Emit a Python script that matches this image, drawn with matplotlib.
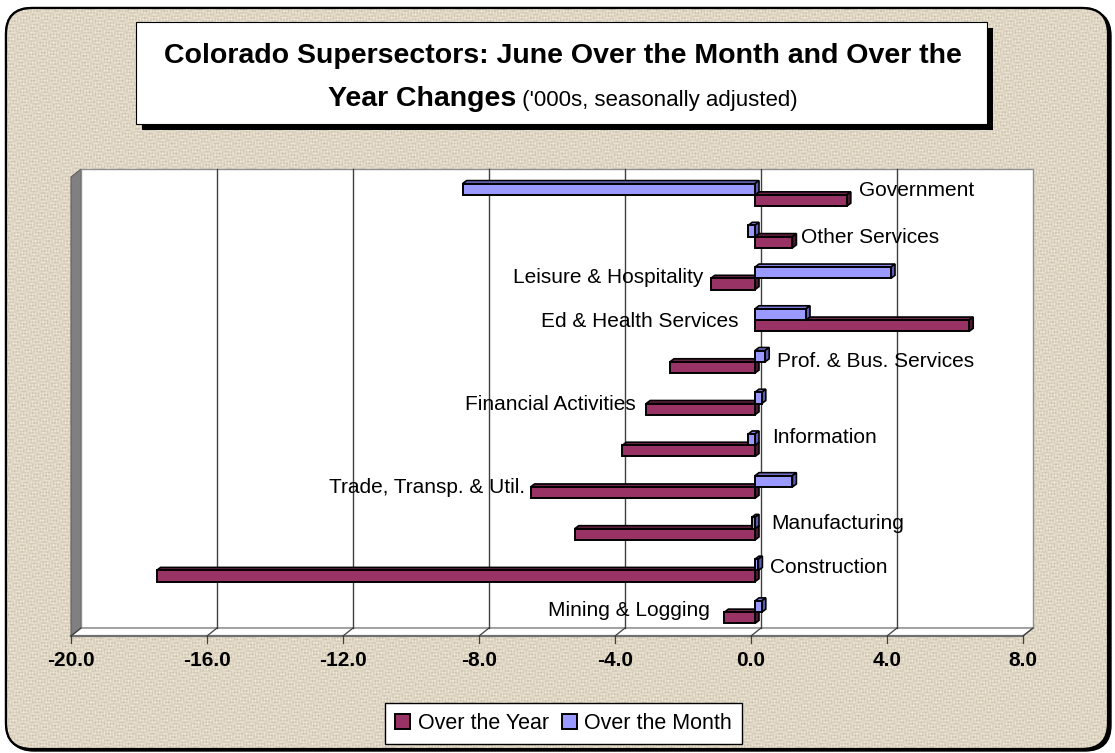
import numpy as np
import matplotlib
matplotlib.use("Agg")
import matplotlib.pyplot as plt
from matplotlib.patches import Polygon, Rectangle, FancyBboxPatch
from matplotlib.transforms import IdentityTransform, ScaledTranslation
from matplotlib.lines import Line2D

plt.rcParams['font.family'] = ['Liberation Sans', 'DejaVu Sans']

# ---------------- data ----------------
categories = ["Mining & Logging", "Construction", "Manufacturing",
              "Trade, Transp. & Util.", "Information", "Financial Activities",
              "Prof. & Bus. Services", "Ed & Health Services",
              "Leisure & Hospitality", "Other Services", "Government"]
over_year = [-0.9, -17.6, -5.3, -6.6, -3.9, -3.2, -2.5, 6.3, -1.3, 1.1, 2.7]
over_month = [0.2, 0.1, -0.1, 1.1, -0.2, 0.2, 0.3, 1.5, 4.0, -0.2, -8.6]
series_names = ["Over the Year", "Over the Month"]
x_ticks = [-20, -16, -12, -8, -4, 0, 4, 8]
tick_labels = ["-20.0", "-16.0", "-12.0", "-8.0", "-4.0", "0.0", "4.0", "8.0"]
title_line1 = "Colorado Supersectors: June Over the Month and Over the"
title_line2_bold = "Year Changes"
title_line2_rest = " ('000s, seasonally adjusted)"

# label placement (layout, not data)
label_x = [-1.2, 0.55, 0.6, -6.65, 0.62, -3.4, 0.76, -0.38, -1.41, 1.47, 3.18]
label_ha = ["right", "left", "left", "right", "left", "right", "left",
            "right", "right", "left", "left"]
label_dy = [0.12, 0.13, 0.2, 0.06, 0.25, 0.04, 0.07, 0.03, 0.08, 0.06, 0.17]

# ---------------- style ----------------
W, H = 1115, 753
C_YEAR = "#993366"
C_MONTH = "#9999FF"
C_YEAR_TOP = "#6e2449"
C_YEAR_SIDE = "#4d1a33"
C_MONTH_TOP = "#8080e6"
C_MONTH_SIDE = "#5c5cb3"
DEPTH = np.array([10.0, 8.0])       # wall depth in px (right, up)
BAR_FRONT = np.array([4.0, 3.0])
BAR_BACK = np.array([8.0, 6.0])
BAR_H = 0.27

fig = plt.figure(figsize=(W / 100, H / 100), dpi=100)
fig.patch.set_facecolor("white")

# ---------------- background ----------------
bg = fig.add_axes([0, 0, 1, 1])
bg.set_xlim(0, W)
bg.set_ylim(H, 0)
bg.axis("off")

shadow = FancyBboxPatch((8, 10), W - 12, H - 12,
                        boxstyle="round,pad=0,rounding_size=26",
                        fc="black", ec="black", lw=1.0, zorder=0)
bg.add_patch(shadow)
frame = FancyBboxPatch((6, 8), W - 13, H - 12,
                       boxstyle="round,pad=0,rounding_size=26",
                       fc="#ddd4c1", ec="black", lw=1.6, zorder=1)
bg.add_patch(frame)

yy, xx = np.mgrid[0:H, 0:W].astype(float)
pat = (np.sin(xx * 2.1) * np.sin(yy * 0.35 + 2 * np.sin(xx * 0.031))
       + np.sin(yy * 1.9) * np.sin(xx * 0.29 + 2 * np.sin(yy * 0.027))
       + 0.6 * np.sin(xx * 0.7 + yy * 0.05) * np.cos(yy * 0.9))
base = np.array([223, 214, 196]) / 255.0
img = np.clip(base + pat[..., None] * 0.042 * np.array([1.0, 1.0, 1.1]), 0, 1)
im = bg.imshow(img, extent=(0, W, H, 0), zorder=1.5, interpolation="nearest")
im.set_clip_path(frame)
frame_edge = FancyBboxPatch((6, 8), W - 13, H - 12,
                            boxstyle="round,pad=0,rounding_size=26",
                            fc="none", ec="black", lw=1.6, zorder=1.6)
bg.add_patch(frame_edge)

# title box
bg.add_patch(Rectangle((142, 28), 851, 102, fc="black", ec="none", zorder=2))
bg.add_patch(Rectangle((136, 22), 851, 102, fc="white", ec="black", lw=0.8, zorder=3))
bg.text(563, 56, title_line1, ha="center", va="center", fontsize=20.5,
        fontweight="bold", zorder=4)
t_bold = bg.text(0, 106, title_line2_bold, ha="left", va="baseline", fontsize=20.5,
                 fontweight="bold", zorder=4)
t_rest = bg.text(0, 106, title_line2_rest, ha="left", va="baseline", fontsize=16,
                 zorder=4)
fig.canvas.draw()
r = fig.canvas.get_renderer()
wb = t_bold.get_window_extent(r).width
wr = t_rest.get_window_extent(r).width
x0 = 563 - (wb + wr) / 2
t_bold.set_x(x0)
t_rest.set_x(x0 + wb)

# ---------------- main axes (front plane) ----------------
ax = fig.add_axes([71 / W, (H - 636) / H, 952 / W, (636 - 177) / H])
ax.set_xlim(-20, 8)
ax.set_ylim(-0.5, 10.5)
ax.axis("off")
fig.canvas.draw()

def disp(x, y, off):
    p = ax.transData.transform((x, y))
    return p + off

xmin, xmax = ax.get_xlim()
ymin, ymax = ax.get_ylim()
Z = np.zeros(2)

# left side wall
side = Polygon([disp(xmin, ymin, Z), disp(xmin, ymax, Z),
                disp(xmin, ymax, DEPTH), disp(xmin, ymin, DEPTH)],
               closed=True, transform=IdentityTransform(), fc="#808080",
               ec="#606060", lw=0.8, zorder=0.5, clip_on=False)
ax.add_patch(side)
# back wall
back = Polygon([disp(xmin, ymin, DEPTH), disp(xmax, ymin, DEPTH),
                disp(xmax, ymax, DEPTH), disp(xmin, ymax, DEPTH)],
               closed=True, transform=IdentityTransform(), fc="white",
               ec="#909090", lw=1.0, zorder=0.5, clip_on=False)
ax.add_patch(back)
# floor
floor = Polygon([disp(xmin, ymin, Z), disp(xmax, ymin, Z),
                 disp(xmax, ymin, DEPTH), disp(xmin, ymin, DEPTH)],
                closed=True, transform=IdentityTransform(), fc="white",
                ec="#808080", lw=1.0, zorder=0.6, clip_on=False)
ax.add_patch(floor)
ax.add_line(Line2D([disp(xmin, ymin, Z)[0], disp(xmax, ymin, Z)[0]],
                   [disp(xmin, ymin, Z)[1], disp(xmax, ymin, Z)[1]],
                   transform=IdentityTransform(), color="#707070", lw=1.6,
                   zorder=0.7, clip_on=False))

# gridlines, floor diagonals, ticks
for xv, lab in zip(x_ticks, tick_labels):
    if xmin < xv < xmax:
        b0 = disp(xv, ymin, DEPTH)
        b1 = disp(xv, ymax, DEPTH)
        ax.add_line(Line2D([b0[0], b1[0]], [b0[1], b1[1]],
                           transform=IdentityTransform(), color="#404040",
                           lw=1.0, zorder=0.8, clip_on=False))
    f0 = disp(xv, ymin, Z)
    b0 = disp(xv, ymin, DEPTH)
    ax.add_line(Line2D([f0[0], b0[0]], [f0[1], b0[1]],
                       transform=IdentityTransform(), color="#404040",
                       lw=0.9, zorder=0.8, clip_on=False))
    ax.add_line(Line2D([f0[0], f0[0]], [f0[1], f0[1] - 7],
                       transform=IdentityTransform(), color="#404040",
                       lw=0.9, zorder=0.8, clip_on=False))
    ax.annotate(lab, (xv, ymin), xytext=(0, -18), textcoords="offset points",
                ha="center", va="center", fontsize=15, fontweight="bold",
                annotation_clip=False)

# ---------------- 3D bars ----------------
ypos = np.arange(len(categories))
front_tr = ax.transData + ScaledTranslation(BAR_FRONT[0] / 100, BAR_FRONT[1] / 100,
                                           fig.dpi_scale_trans)

def faces(vals, yc, top_c, side_c, z):
    for v, y in zip(vals, yc):
        a, b = min(0, v), max(0, v)
        y0, y1 = y - BAR_H / 2, y + BAR_H / 2
        top = Polygon([disp(a, y1, BAR_FRONT), disp(b, y1, BAR_FRONT),
                       disp(b, y1, BAR_BACK), disp(a, y1, BAR_BACK)],
                      closed=True, transform=IdentityTransform(), fc=top_c,
                      ec="black", lw=1.2, zorder=z, clip_on=False)
        sd = Polygon([disp(b, y0, BAR_FRONT), disp(b, y1, BAR_FRONT),
                      disp(b, y1, BAR_BACK), disp(b, y0, BAR_BACK)],
                     closed=True, transform=IdentityTransform(), fc=side_c,
                     ec="black", lw=1.2, zorder=z, clip_on=False)
        ax.add_patch(top)
        ax.add_patch(sd)

y_year = ypos - BAR_H / 2
y_month = ypos + BAR_H / 2
faces(over_year, y_year, C_YEAR_TOP, C_YEAR_SIDE, 2.0)
bars_year = ax.barh(y_year, over_year, height=BAR_H, color=C_YEAR,
                    edgecolor="black", linewidth=1.4, transform=front_tr,
                    zorder=2.1, clip_on=False)
faces(over_month, y_month, C_MONTH_TOP, C_MONTH_SIDE, 2.2)
bars_month = ax.barh(y_month, over_month, height=BAR_H, color=C_MONTH,
                     edgecolor="black", linewidth=1.4, transform=front_tr,
                     zorder=2.3, clip_on=False)
ax.set_xlim(xmin, xmax)
ax.set_ylim(ymin, ymax)

# category labels
for i, name in enumerate(categories):
    ax.text(label_x[i], ypos[i] + label_dy[i], name, ha=label_ha[i],
            va="center", fontsize=15, zorder=5, clip_on=False)

# legend
leg = fig.legend([bars_year, bars_month], series_names, loc="center",
                 bbox_to_anchor=(563.5 / W, 1 - 723.5 / H), ncol=2,
                 fontsize=15.5, frameon=True, fancybox=False,
                 edgecolor="black", facecolor="white", framealpha=1,
                 handlelength=0.7, handleheight=0.7, handletextpad=0.35,
                 columnspacing=0.6, borderpad=0.45, borderaxespad=0)
leg.get_frame().set_linewidth(1.0)

fig.savefig("out.png", dpi=100)
